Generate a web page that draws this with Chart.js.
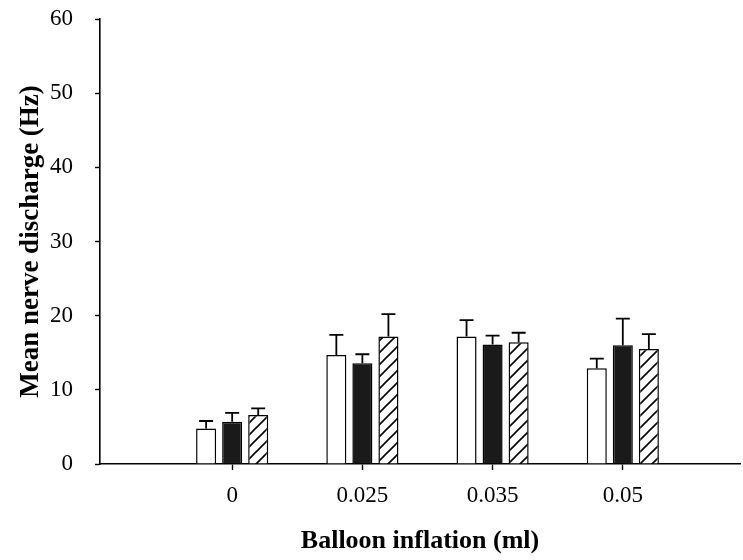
<!DOCTYPE html>
<html>
<head>
<meta charset="utf-8">
<script src="https://cdn.jsdelivr.net/npm/chart.js@4/dist/chart.umd.min.js"></script>
<style>
  html, body { margin: 0; padding: 0; background: #fff; }
  canvas { display: block; }
</style>
</head>
<body>
<canvas id="c" width="743" height="560"></canvas>
<script>
// Balloon inflation volumes (ml)
const categories = ['0', '0.025', '0.035', '0.05'];

// Mean nerve discharge (Hz) for the three conditions
const openValues    = [4.8, 14.7, 17.2, 12.9];
const solidValues   = [5.7, 13.6, 16.1, 16.0];
const hatchedValues = [6.6, 17.2, 16.4, 15.5];

// Upper error (SEM) for each bar
const openErrors    = [1.0, 2.7, 2.2, 1.3];
const solidErrors   = [1.2, 1.2, 1.2, 3.6];
const hatchedErrors = [0.9, 3.0, 1.3, 2.0];

const yTicks = [0, 10, 20, 30, 40, 50, 60];

const SERIF = '"Liberation Serif", "Times New Roman", serif';

// Diagonal hatching fill
function makeHatch() {
  const s = 12;
  const p = document.createElement('canvas');
  p.width = s; p.height = s;
  const g = p.getContext('2d');
  g.fillStyle = '#fff';
  g.fillRect(0, 0, s, s);
  g.strokeStyle = '#000';
  g.lineWidth = 1.6;
  g.beginPath();
  g.moveTo(-2, s + 2); g.lineTo(s + 2, -2);
  g.moveTo(-2, 2); g.lineTo(2, -2);
  g.moveTo(s - 2, s + 2); g.lineTo(s + 2, s - 2);
  g.stroke();
  return g.createPattern(p, 'repeat');
}

const ctx = document.getElementById('c').getContext('2d');

function points(vals) {
  return categories.map((c, i) => ({ x: i + 1, y: vals[i] }));
}

// One-sided (upward) error bars drawn from the dataset values
const errorBars = {
  id: 'errorBars',
  afterDatasetsDraw(chart) {
    const y = chart.scales.y;
    const c = chart.ctx;
    c.save();
    c.strokeStyle = '#000';
    c.lineWidth = 1.8;
    chart.data.datasets.forEach((ds, di) => {
      const meta = chart.getDatasetMeta(di);
      meta.data.forEach((bar, i) => {
        const v = ds.data[i].y;
        const top = y.getPixelForValue(v + ds.errors[i]);
        const half = 7;
        c.beginPath();
        c.moveTo(bar.x, bar.y);
        c.lineTo(bar.x, top);
        c.moveTo(bar.x - half, top);
        c.lineTo(bar.x + half, top);
        c.stroke();
      });
    });
    c.restore();
  }
};

new Chart(ctx, {
  type: 'bar',
  data: {
    datasets: [
      { label: 'A', data: points(openValues), errors: openErrors,
        backgroundColor: '#fff', borderColor: '#000', borderWidth: 1.5 },
      { label: 'B', data: points(solidValues), errors: solidErrors,
        backgroundColor: '#1a1a1a', borderColor: '#000', borderWidth: 1.5 },
      { label: 'C', data: points(hatchedValues), errors: hatchedErrors,
        backgroundColor: makeHatch(), borderColor: '#000', borderWidth: 1.5 }
    ]
  },
  options: {
    responsive: false,
    animation: false,
    categoryPercentage: 0.6,
    barPercentage: 0.77,
    layout: { padding: { top: 19, right: 3, left: 0, bottom: 0 } },
    plugins: { legend: { display: false }, tooltip: { enabled: false } },
    scales: {
      x: {
        type: 'linear',
        min: -0.015,
        max: 4.9,
        offset: false,
        afterBuildTicks(scale) {
          scale.ticks = categories.map((c, i) => ({ value: i + 1 }));
        },
        afterFit(scale) {
          scale.height = 96;
          scale.paddingLeft = 0;
          scale.paddingRight = 0;
        },
        border: { display: true, color: '#000', width: 1.6 },
        grid: { offset: false, drawOnChartArea: false, drawTicks: true, tickLength: 6, tickColor: '#000', tickWidth: 1.4 },
        ticks: {
          color: '#000',
          padding: 12,
          maxRotation: 0,
          font: { family: SERIF, size: 23 },
          callback: (v) => categories[v - 1] ?? ''
        },
        title: {
          display: true,
          text: 'Balloon inflation (ml)',
          color: '#000',
          font: { family: SERIF, size: 26, weight: 'bold' },
          padding: { top: 0, bottom: 3 }
        }
      },
      y: {
        min: 0,
        max: 60,
        afterBuildTicks(scale) {
          scale.ticks = yTicks.map(v => ({ value: v }));
        },
        afterFit(scale) {
          scale.width = 100;
          scale.paddingTop = 0;
          scale.paddingBottom = 0;
        },
        border: { display: true, color: '#000', width: 1.6 },
        grid: { drawOnChartArea: false, drawTicks: true, tickLength: 5, tickColor: '#000', tickWidth: 1.4 },
        ticks: {
          color: '#000',
          padding: 22,
          font: { family: SERIF, size: 23 }
        },
        title: {
          display: true,
          text: 'Mean nerve discharge (Hz)',
          color: '#000',
          font: { family: SERIF, size: 27, weight: 'bold' },
          padding: { top: 15, bottom: 0 }
        }
      }
    }
  },
  plugins: [errorBars]
});
</script>
</body>
</html>
